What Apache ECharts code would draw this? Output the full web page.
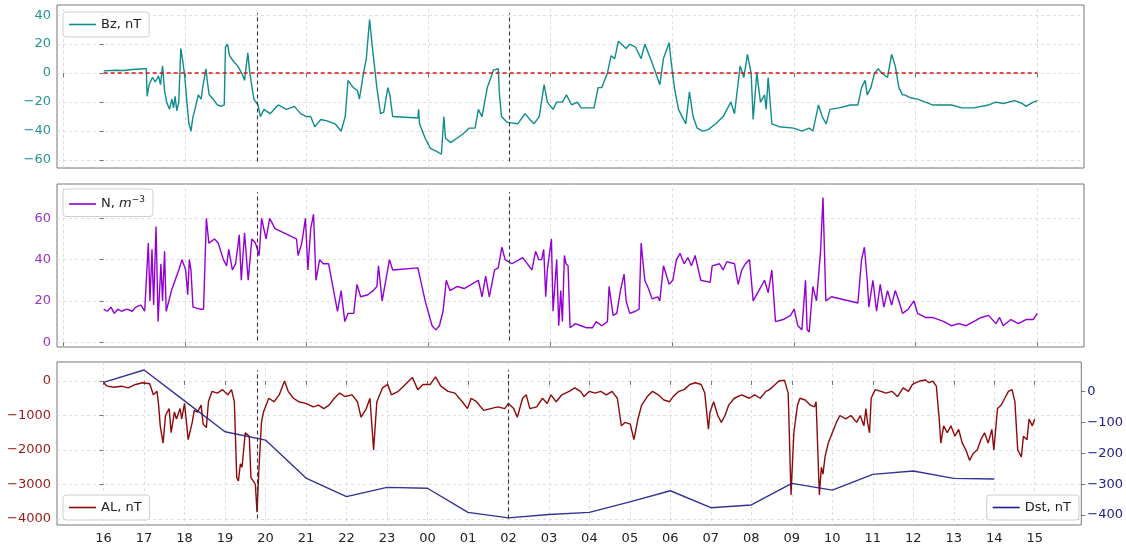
<!DOCTYPE html>
<html><head><meta charset="utf-8">
<script src="https://cdn.jsdelivr.net/npm/echarts@6/dist/echarts.min.js"></script>
<style>html,body{margin:0;padding:0;background:#fff}#c{width:1126px;height:546px}</style>
</head><body><div id="c"></div>
<script>
// ---- data (x = hours since 16:00) ----
const hourLabels = ['16','17','18','19','20','21','22','23','00','01','02','03','04','05','06','07','08','09','10','11','12','13','14','15'];
const topTickHours = [-1,2,5,8,11,14,17,20,23];
const eventTimes = [3.79, 10.0];

const bzT = [0,0.3,0.5,0.7,1.0,1.05,1.07,1.12,1.2,1.27,1.35,1.4,1.45,1.5,1.55,1.62,1.68,1.72,1.76,1.8,1.85,1.9,1.95,2.0,2.05,2.1,2.15,2.2,2.25,2.33,2.4,2.45,2.52,2.55,2.6,2.7,2.8,2.9,2.97,3.0,3.05,3.1,3.2,3.3,3.4,3.47,3.55,3.6,3.7,3.75,3.8,3.86,3.95,4.1,4.3,4.5,4.7,4.85,5.0,5.1,5.2,5.35,5.5,5.7,5.85,5.95,6.02,6.15,6.25,6.3,6.4,6.47,6.55,6.63,6.73,6.82,6.9,7.0,7.05,7.12,7.74,7.76,7.78,7.92,8.05,8.2,8.32,8.38,8.42,8.55,8.7,8.85,9.0,9.15,9.23,9.32,9.45,9.54,9.6,9.72,9.75,9.8,9.94,10.2,10.38,10.5,10.6,10.73,10.85,10.93,11.07,11.16,11.3,11.4,11.53,11.67,11.76,12.08,12.18,12.27,12.41,12.5,12.59,12.68,12.87,12.96,13.1,13.24,13.33,13.47,13.6,13.7,13.79,13.93,13.97,14.06,14.16,14.25,14.34,14.43,14.52,14.62,14.76,14.89,15.08,15.26,15.45,15.54,15.68,15.77,15.86,15.95,16.0,16.09,16.18,16.28,16.32,16.37,16.46,16.64,17.0,17.2,17.38,17.47,17.61,17.7,17.8,17.89,17.93,18.12,18.39,18.58,18.67,18.76,18.81,18.9,18.99,19.08,19.17,19.31,19.41,19.5,19.59,19.68,19.73,19.87,20.05,20.24,20.42,20.88,21.15,21.43,21.8,21.98,22.16,22.44,22.63,22.72,22.9,23.0];
const bzV = [1.5,2,1.8,2.5,3,3,-16,-8,-3,-6,-2,-8,5,-12,-20,-25,-18,-24,-16,-26,-20,17,8,-3,-20,-35,-40,-30,-25,-15,-18,-8,3,-5,-15,-18,-22,-23,-22,18,20,12,8,5,0,-5,14,0,-18,-20,-22,-30,-25,-28,-22,-25,-23,-28,-30,-30,-37,-32,-33,-35,-40,-30,-5,-10,-12,-18,0,10,37,15,-10,-28,-27,-10,-15,-30,-31,-25,-35,-45,-52,-54,-56,-30,-45,-48,-45,-42,-38,-38,-25,-30,-10,-3,2,3,-15,-30,-34,-35,-28,-32,-35,-30,-8,-20,-25,-20,-20,-15,-22,-20,-24,-24,-10,-10,0,12,10,22,17,20,18,10,20,10,0,-8,10,21,10,-10,-25,-30,-35,-13,-30,-38,-40,-39,-35,-30,-20,-28,5,-3,13,0,-32,0,-20,-15,-25,-3,-35,-37,-38,-40,-38,-40,-22,-30,-35,-25,-24,-24,-22,-22,-10,-5,-15,-10,0,3,0,-3,13,5,-10,-15,-15,-17,-18,-20,-22,-22,-24,-24,-22,-20,-21,-19,-21,-23,-20,-19];

const nT = [0,0.09,0.18,0.26,0.35,0.44,0.57,0.7,0.79,0.92,1.01,1.1,1.14,1.19,1.23,1.29,1.34,1.41,1.45,1.5,1.54,1.67,1.85,1.93,2.02,2.07,2.11,2.15,2.2,2.38,2.46,2.53,2.59,2.73,2.82,2.95,3.03,3.08,3.17,3.25,3.34,3.39,3.47,3.56,3.65,3.74,3.83,3.89,4.0,4.09,4.22,4.75,4.79,4.88,4.97,5.03,5.1,5.17,5.23,5.32,5.41,5.54,5.76,5.85,5.94,6.02,6.16,6.24,6.33,6.51,6.64,6.73,6.77,6.86,7.04,7.12,7.74,7.92,8.09,8.18,8.27,8.36,8.44,8.53,8.71,8.88,9.06,9.23,9.32,9.41,9.5,9.63,9.72,9.81,9.89,10.06,10.32,10.55,10.64,10.72,10.79,10.84,10.89,10.93,11.03,11.07,11.16,11.21,11.26,11.3,11.35,11.39,11.44,11.49,11.62,11.76,11.9,12.04,12.13,12.27,12.41,12.45,12.55,12.64,12.73,12.82,12.87,12.96,13.1,13.19,13.24,13.33,13.42,13.51,13.65,13.7,13.79,13.93,14.02,14.11,14.2,14.3,14.39,14.48,14.57,14.71,14.94,14.99,15.17,15.26,15.35,15.54,15.63,15.72,15.81,15.91,16.0,16.14,16.28,16.37,16.46,16.55,16.74,16.92,17.01,17.1,17.2,17.29,17.33,17.38,17.47,17.56,17.66,17.72,17.79,17.93,18.58,18.67,18.74,18.81,18.85,18.95,19.04,19.13,19.22,19.31,19.41,19.5,19.59,19.68,19.82,19.96,20.05,20.24,20.42,20.7,20.88,21.06,21.25,21.43,21.62,21.8,21.98,22.07,22.16,22.35,22.53,22.72,22.9,23.0];
const nV = [16,15,17,14,16,15,16,15,17,18,15,48,20,45,18,56,10,38,20,44,15,25,35,40,35,23,40,35,17,16,16,60,48,50,48,40,37,45,35,38,52,30,53,30,50,48,42,60,50,60,55,50,42,48,60,35,55,62,30,40,38,38,15,25,10,14,14,28,22,23,25,27,37,20,40,35,36,20,8,6,8,15,30,25,27,26,28,30,22,32,22,35,36,46,40,38,41,35,44,40,40,45,22,35,50,15,40,8,25,10,42,38,37,7,9,8,7,7,10,8,10,27,13,14,25,33,20,14,15,16,48,30,26,21,22,20,37,28,30,40,43,38,41,37,42,30,29,37,38,35,39,38,28,35,38,40,20,25,30,24,35,10,11,13,16,8,6,30,6,5,27,20,44,70,20,22,19,40,46,30,17,30,15,28,17,25,18,25,20,14,16,20,14,12,12,10,8,9,8,10,12,13,9,12,8,11,9,11,11,14];

const alT = [0,0.09,0.26,0.44,0.61,0.79,0.96,1.14,1.23,1.32,1.36,1.4,1.47,1.53,1.62,1.67,1.75,1.8,1.89,1.93,2.0,2.09,2.19,2.24,2.32,2.41,2.46,2.54,2.59,2.68,2.81,2.94,3.07,3.16,3.23,3.29,3.33,3.38,3.42,3.5,3.6,3.64,3.7,3.75,3.79,3.84,3.9,3.95,4.08,4.21,4.34,4.47,4.56,4.69,4.82,5.0,5.18,5.31,5.44,5.57,5.7,5.83,5.96,6.14,6.27,6.36,6.49,6.58,6.67,6.75,6.89,7.02,7.11,7.28,7.41,7.54,7.63,7.76,7.89,8.07,8.2,8.33,8.51,8.68,8.86,8.99,9.08,9.21,9.39,9.56,9.74,9.91,10.0,10.13,10.22,10.35,10.44,10.53,10.7,10.84,10.96,11.05,11.18,11.32,11.5,11.64,11.78,11.87,12.0,12.14,12.28,12.42,12.56,12.69,12.79,12.88,13.01,13.1,13.2,13.29,13.43,13.56,13.7,13.84,13.98,14.07,14.21,14.34,14.48,14.62,14.76,14.85,14.94,14.98,15.07,15.17,15.26,15.35,15.44,15.58,15.76,15.95,16.08,16.22,16.36,16.45,16.59,16.68,16.82,16.91,16.98,17.05,17.14,17.2,17.33,17.46,17.56,17.6,17.68,17.73,17.77,17.82,17.9,18.0,18.1,18.19,18.33,18.46,18.6,18.69,18.78,18.83,18.87,18.92,18.96,19.06,19.2,19.33,19.47,19.61,19.75,19.88,19.98,20.07,20.16,20.3,20.39,20.48,20.57,20.64,20.68,20.75,20.84,20.93,21.03,21.12,21.21,21.3,21.39,21.48,21.58,21.67,21.76,21.85,21.94,21.99,22.08,22.17,22.26,22.35,22.44,22.51,22.58,22.67,22.72,22.81,22.86,22.94,23.0];
const alV = [-50,-150,-180,-150,-200,-100,-50,-80,-400,-300,-700,-1300,-1800,-1000,-800,-1500,-900,-1100,-800,-1100,-650,-1700,-1200,-850,-900,-700,-1250,-1350,-600,-300,-350,-250,-400,-250,-600,-2800,-2900,-2400,-2500,-1500,-1600,-2800,-2900,-3000,-3800,-2500,-1200,-900,-500,-600,-400,0,-300,-500,-600,-650,-750,-700,-800,-700,-500,-350,-450,-400,-600,-1050,-800,-500,-2000,-600,-200,-100,-400,-300,-150,0,100,-250,-100,-100,120,-150,-300,-350,-600,-800,-500,-600,-850,-800,-750,-800,-650,-800,-1050,-500,-400,-800,-750,-500,-650,-400,-600,-400,-300,-200,-300,-450,-300,-350,-300,-400,-300,-500,-1300,-1200,-1250,-1700,-1100,-700,-450,-300,-400,-550,-600,-450,-300,-250,-100,-50,-100,-350,-1400,-900,-600,-1000,-1200,-1000,-700,-500,-400,-500,-400,-500,-300,-250,-100,0,20,-350,-3300,-1500,-700,-500,-550,-700,-750,-600,-3300,-2500,-2700,-2200,-1800,-1500,-1200,-1000,-1100,-1000,-1200,-1000,-1300,-800,-1200,-1500,-500,-250,-300,-350,-300,-450,-200,-300,-100,-50,0,30,-50,0,-150,-1100,-1800,-1300,-1500,-1300,-1600,-1400,-1800,-2000,-2300,-2100,-2000,-1700,-1500,-1800,-1400,-2000,-800,-700,-500,-300,-250,-600,-2000,-2200,-1600,-1700,-1100,-1300,-1100];

const dstT = [0,1,2,3,4,5,6,7,8,9,10,11,12,13,14,15,16,17,18,19,20,21,22];
const dstV = [30,70,-30,-130,-157,-280,-340,-310,-313,-391,-409,-398,-391,-357,-321,-376,-367,-297,-319,-268,-257,-281,-283];

// ---- chart ----
const zip = (t, v) => t.map((x, i) => [x, v[i]]);
const minus = v => String(v).replace('-', '\u2212');
const FONT = 'DejaVu Sans';
const X_MIN = -1.15, X_MAX = 24.15;
const C_BZ = '#108c8c', C_N = '#9400d3', C_AL = '#8e0a0a', C_DST = '#1c1c8c';
const GRID_COLOR = '#d6d6d6';
const gridLine = {show: true, lineStyle: {color: GRID_COLOR, type: [3, 3], width: 0.8}};
const tickStyle = {show: true, inside: false, length: 4, lineStyle: {color: '#555', width: 0.8}};
const hourTicks = hourLabels.map((_, i) => i);

const ranges = [[-65.5, 47], [-2.3, 76.6], [-4174, 551]];
function vlines(ri) {
  const [lo, hi] = ranges[ri];
  const a = lo + 0.04 * (hi - lo), b = hi - 0.05 * (hi - lo);
  return eventTimes.map(t => [{coord: [t, a], lineStyle: {color: '#333', type: [4, 3], width: 1.1}}, {coord: [t, b]}]);
}
function gridVLines(ri) {
  const [lo, hi] = ranges[ri];
  return topTickHours.map(t => [{coord: [t, lo]}, {coord: [t, hi]}]);
}

const grids = [
  {left: 57, right: 42, top: 5, height: 163},
  {left: 57, right: 42, top: 184, height: 163},
  {left: 57, right: 42, top: 362, height: 163}
].map(g => Object.assign(g, {show: true, borderColor: '#777', borderWidth: 1, backgroundColor: '#fff', containLabel: false}));

function xAxis(gi, labels) {
  const ticks = labels ? hourTicks : topTickHours;
  return {
    type: 'value', gridIndex: gi, min: X_MIN, max: X_MAX,
    axisLine: {show: false},
    axisTick: Object.assign({}, tickStyle, {customValues: ticks}),
    splitLine: labels ? gridLine : {show: false},
    axisLabel: labels ? {show: true, customValues: ticks, showMaxLabel: true, hideOverlap: false, color: '#222', fontFamily: FONT, fontSize: 13, margin: 7,
      formatter: v => hourLabels[Math.round(v)]} : {show: false, customValues: ticks}
  };
}
function yAxis(gi, range, ticks, color, pos, split) {
  return {
    type: 'value', gridIndex: gi, min: range[0], max: range[1], position: pos,
    axisLine: {show: false},
    axisTick: Object.assign({}, tickStyle, {customValues: ticks}),
    splitLine: split ? gridLine : {show: false},
    axisLabel: {customValues: ticks, color: color, fontFamily: FONT, fontSize: 13, margin: 6, formatter: minus}
  };
}

const legendBase = {
  orient: 'horizontal', icon: 'rect', itemWidth: 27, itemHeight: 1.6, itemGap: 10,
  backgroundColor: 'rgba(255,255,255,0.9)', borderColor: '#cfcfcf', borderWidth: 1, borderRadius: 3,
  padding: [6, 8, 6, 6], textStyle: {fontFamily: FONT, fontSize: 13, color: '#222'}, selectedMode: false
};

function gridSeries(gi) {
  return {type: 'line', xAxisIndex: gi, yAxisIndex: gi, data: [], silent: true, z: 0,
    markLine: {silent: true, symbol: 'none', label: {show: false}, animation: false, z: 0,
      lineStyle: {color: GRID_COLOR, type: [3, 3], width: 0.8}, data: gridVLines(gi)}};
}

const option = {
  animation: false,
  grid: grids,
  xAxis: [xAxis(0, false), xAxis(1, false), xAxis(2, true)],
  yAxis: [
    yAxis(0, ranges[0], [-60, -40, -20, 0, 20, 40], '#269494', 'left', true),
    yAxis(1, ranges[1], [0, 20, 40, 60], '#9a34cc', 'left', true),
    yAxis(2, ranges[2], [-4000, -3000, -2000, -1000, 0], '#9a1a1a', 'left', true),
    yAxis(2, [-432, 96], [-400, -300, -200, -100, 0], '#222288', 'right', false)
  ],
  legend: [
    Object.assign({}, legendBase, {data: ['Bz, nT'], left: 63, top: 12}),
    Object.assign({}, legendBase, {data: ['N'], left: 63, top: 189,
      formatter: () => '{t|N, }{i|m}{s|\u22123}',
      textStyle: {fontFamily: FONT, fontSize: 13, color: '#222', rich: {
        t: {fontFamily: FONT, fontSize: 13, color: '#222'},
        i: {fontFamily: FONT, fontSize: 13, fontStyle: 'italic', color: '#222'},
        s: {fontFamily: FONT, fontSize: 9, color: '#222', verticalAlign: 'bottom', padding: [0, 0, 9, 0]}
      }}}),
    Object.assign({}, legendBase, {data: ['AL, nT'], left: 63, top: 495}),
    Object.assign({}, legendBase, {data: ['Dst, nT'], right: 47, top: 495})
  ],
  series: [
    gridSeries(0), gridSeries(1),
    {name: 'Bz, nT', type: 'line', xAxisIndex: 0, yAxisIndex: 0, data: zip(bzT, bzV), showSymbol: false,
      lineStyle: {color: C_BZ, width: 1.4}, itemStyle: {color: C_BZ}, z: 3,
      markLine: {silent: true, symbol: 'none', label: {show: false}, animation: false,
        data: [[{coord: [bzT[0], 0], lineStyle: {color: '#e01010', type: [4, 3], width: 1.5}},
                {coord: [bzT[bzT.length - 1], 0]}]].concat(vlines(0))}},
    {name: 'N', type: 'line', xAxisIndex: 1, yAxisIndex: 1, data: zip(nT, nV), showSymbol: false,
      lineStyle: {color: C_N, width: 1.4}, itemStyle: {color: C_N}, z: 3,
      markLine: {silent: true, symbol: 'none', label: {show: false}, animation: false, data: vlines(1)}},
    {name: 'AL, nT', type: 'line', xAxisIndex: 2, yAxisIndex: 2, data: zip(alT, alV), showSymbol: false,
      lineStyle: {color: C_AL, width: 1.4}, itemStyle: {color: C_AL}, z: 3,
      markLine: {silent: true, symbol: 'none', label: {show: false}, animation: false, data: vlines(2)}},
    {name: 'Dst, nT', type: 'line', xAxisIndex: 2, yAxisIndex: 3, data: zip(dstT, dstV), showSymbol: false,
      lineStyle: {color: C_DST, width: 1.4, opacity: 0.9}, itemStyle: {color: C_DST}, z: 3}
  ]
};
const chart = echarts.init(document.getElementById('c'), null, {renderer: 'canvas'});
chart.setOption(option);
</script>
</body></html>
